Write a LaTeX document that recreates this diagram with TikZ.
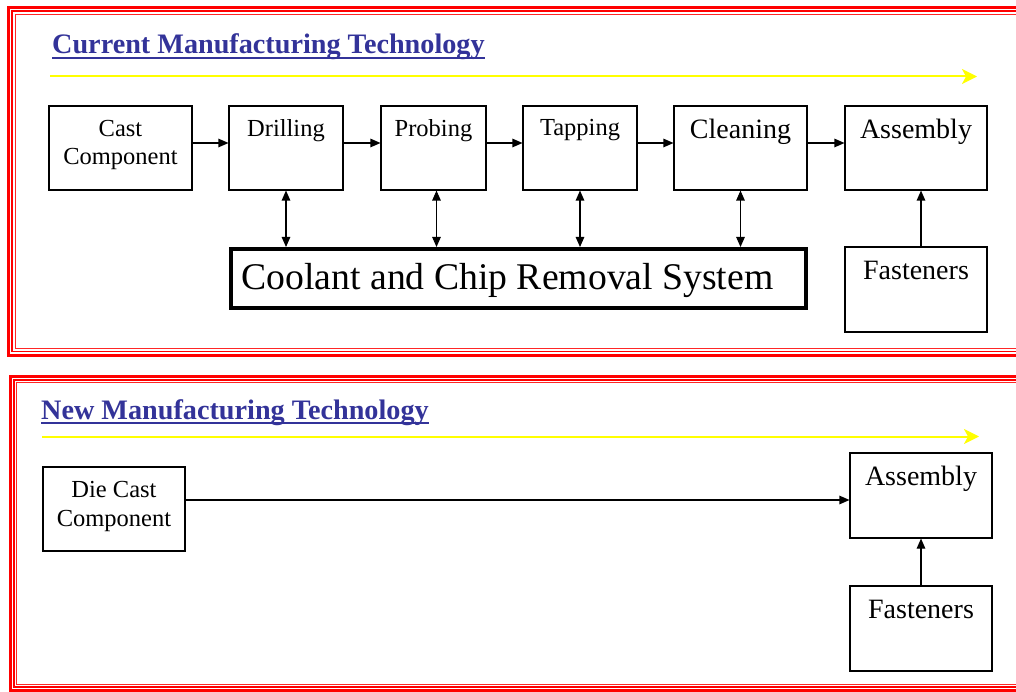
\documentclass[tikz,border=0pt]{standalone}
\usepackage{fontspec}
\setmainfont{Liberation Serif}
\usetikzlibrary{arrows.meta}
\definecolor{titleblue}{RGB}{51,51,153}
\definecolor{framered}{RGB}{255,0,0}
\definecolor{flowyellow}{RGB}{255,255,0}
\begin{document}
\begin{tikzpicture}[x=1pt,y=-1pt,
  box/.style={draw=black, line width=1.1pt, inner sep=0pt, fill=white},
  bigbox/.style={draw=black, line width=4pt, inner sep=0pt, fill=white},
  smalltxt/.style={anchor=north, inner sep=0pt, align=center,
    font=\fontsize{24.5pt}{28.4pt}\selectfont},
  largetxt/.style={anchor=north, inner sep=0pt, align=center,
    font=\fontsize{28pt}{32pt}\selectfont},
  title/.style={anchor=base west, inner sep=0pt, text=titleblue,
    font=\bfseries\fontsize{28.2pt}{32pt}\selectfont},
  titleline/.style={draw=titleblue, line width=2pt},
  flow/.style={draw=flowyellow, line width=2pt,
    -{Stealth[length=15pt,width=15pt,inset=4pt]}},
  link/.style={draw=black, line width=1.1pt, -{Triangle[length=10pt,width=8.5pt]}},
  duplex/.style={draw=black, line width=1.1pt,
    {Triangle[length=10pt,width=8.5pt]}-{Triangle[length=10pt,width=8.5pt]}},
  outerframe/.style={draw=framered, line width=3pt},
  midframe/.style={draw=framered, line width=1.3pt},
  innerframe/.style={draw=framered!85, line width=0.9pt}
]
\useasboundingbox (0,0) rectangle (1016,692);
\fill[white] (0,0) rectangle (1016,692);

% ---- triple red frames (running off the right edge) ----
\begin{scope}
  \clip (0,0) rectangle (1016,692);
  \draw[outerframe] (8.5,7.5) rectangle (1030,355);
  \draw[midframe]   (12,11)   rectangle (1030,351.5);
  \draw[innerframe] (15,14)   rectangle (1030,348.5);
  \draw[outerframe] (10.5,376.5) rectangle (1030,690.5);
  \draw[midframe]   (14,380)     rectangle (1030,687);
  \draw[innerframe] (16.5,382.5) rectangle (1030,684.5);
\end{scope}

% ---- current process ----
\node[title] (t1) at (52,53.5) {Current Manufacturing Technology};
\draw[titleline] ([yshift=-4.5pt]t1.base west) -- ([yshift=-4.5pt]t1.base east);
\coordinate (f1s) at (50,76.5);
\coordinate (f1e) at (977,76.5);
\draw[flow] (f1s) -- (f1e);

\node[box, minimum width=143pt, minimum height=84pt] (cast)  at (120.5,148) {};
\node[box, minimum width=114pt, minimum height=84pt] (drill) at (286,148) {};
\node[box, minimum width=105pt, minimum height=84pt] (probe) at (433.5,148) {};
\node[box, minimum width=114pt, minimum height=84pt] (tap)   at (580,148) {};
\node[box, minimum width=133pt, minimum height=84pt] (clean) at (740.5,148) {};
\node[box, minimum width=142pt, minimum height=84pt] (asma)  at (916,148) {};
\node[bigbox, minimum width=575pt, minimum height=59pt] (cool) at (518.5,278.5) {};
\node[box, minimum width=142pt, minimum height=85pt] (fasta) at (916,289.5) {};

\node[inner sep=0pt, font=\fontsize{37.7pt}{44pt}\selectfont] (cooll)
  at ([xshift=-11pt,yshift=-2pt]cool.center) {Coolant and Chip Removal System};
\node[smalltxt] (castl)  at ([yshift=-14.5pt]cast.north)  {Cast\\Component};
\node[smalltxt] (drilll) at ([yshift=-13.5pt]drill.north) {Drilling};
\node[smalltxt] (probel) at ([yshift=-13.5pt]probe.north) {Probing};
\node[smalltxt] (tapl)   at ([yshift=-13.5pt]tap.north)   {Tapping};
\node[largetxt] (cleanl) at ([yshift=-13pt]clean.north)   {Cleaning};
\node[largetxt] (asmal)  at ([yshift=-13pt]asma.north)    {Assembly};
\node[largetxt] (fastal) at ([yshift=-15pt]fasta.north)   {Fasteners};

\draw[link] ([yshift=5pt]cast.east)  -- ([yshift=5pt]drill.west);
\draw[link] ([yshift=5pt]drill.east) -- ([yshift=5pt]probe.west);
\draw[link] ([yshift=5pt]probe.east) -- ([yshift=5pt]tap.west);
\draw[link] ([yshift=5pt]tap.east)   -- ([yshift=5pt]clean.west);
\draw[link] ([yshift=5pt]clean.east) -- ([yshift=5pt]asma.west);

\draw[duplex] (drill.south) -- (drill.south |- cool.north);
\draw[duplex] ([xshift=3pt]probe.south) -- ([xshift=3pt]probe.south |- cool.north);
\draw[duplex] (tap.south) -- (tap.south |- cool.north);
\draw[duplex] (clean.south) -- (clean.south |- cool.north);
\draw[link] ([xshift=5pt]fasta.north) -- ([xshift=5pt]fasta.north |- asma.south);

% ---- new process ----
\node[title] (t2) at (41,419.3) {New Manufacturing Technology};
\draw[titleline] ([yshift=-3.8pt]t2.base west) -- ([yshift=-3.8pt]t2.base east);
\coordinate (f2s) at (42,436.5);
\coordinate (f2e) at (979,436.5);
\draw[flow] (f2s) -- (f2e);

\node[box, minimum width=142pt, minimum height=84pt] (die)   at (114,509) {};
\node[box, minimum width=142pt, minimum height=85pt] (asmb)  at (921,495.5) {};
\node[box, minimum width=142pt, minimum height=85pt] (fastb) at (921,628.5) {};

\node[smalltxt] (diel)   at ([yshift=-15pt]die.north)   {Die Cast\\Component};
\node[largetxt] (asmbl)  at ([yshift=-13pt]asmb.north)  {Assembly};
\node[largetxt] (fastbl) at ([yshift=-15pt]fastb.north) {Fasteners};

\draw[link] ([yshift=9pt]die.east) -- ([yshift=9pt]die.east -| asmb.west);
\draw[link] (fastb.north) -- (asmb.south);
\end{tikzpicture}
\end{document}
